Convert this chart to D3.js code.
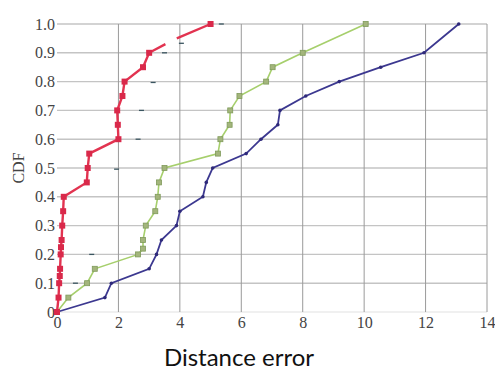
<!DOCTYPE html>
<html><head><meta charset="utf-8">
<script src="https://cdn.jsdelivr.net/npm/d3@7"></script>
<style>html,body{margin:0;padding:0;background:#fff;}svg{display:block;}</style>
</head><body>
<svg id="c" width="495" height="372"></svg>
<script>
// Data
const redX   = [0, 0.05, 0.07, 0.09, 0.1, 0.12, 0.13, 0.15, 0.17, 0.2, 0.22, 0.97, 1.0, 1.05, 2.0, 1.98, 1.96, 2.13, 2.2, 2.8, 3.0, 3.53, null, 3.9, 5.0];
const redY   = [0, 0.05, 0.1, 0.125, 0.15, 0.2, 0.225, 0.25, 0.3, 0.35, 0.4, 0.45, 0.5, 0.55, 0.6, 0.65, 0.7, 0.75, 0.8, 0.85, 0.9, 0.93, null, 0.95, 1.0];
const redMarked = [1,1,1,1,1,1,1,1,1,1,1,1,1,1,1,1,1,1,1,1,1,0,0,0,1];
const greenX = [0, 0.37, 0.98, 1.23, 2.64, 2.8, 2.8, 2.89, 3.2, 3.28, 3.32, 3.5, 5.24, 5.32, 5.62, 5.64, 5.94, 6.81, 7.02, 8.0, 10.05];
const greenY = [0, 0.05, 0.1, 0.15, 0.2, 0.22, 0.25, 0.3, 0.35, 0.4, 0.45, 0.5, 0.55, 0.6, 0.65, 0.7, 0.75, 0.8, 0.85, 0.9, 1.0];
const blueX  = [0, 1.56, 1.77, 3.0, 3.24, 3.4, 3.89, 4.0, 4.75, 4.86, 5.07, 6.16, 6.64, 7.19, 7.26, 8.1, 9.19, 10.54, 11.95, 13.08];
const blueY  = [0, 0.05, 0.1, 0.15, 0.2, 0.25, 0.3, 0.35, 0.4, 0.45, 0.5, 0.55, 0.6, 0.65, 0.7, 0.75, 0.8, 0.85, 0.9, 1.0];
const faintX = [5.35, 4.05, 3.5, 3.13, 2.75, 2.64, 1.94, 1.13, 0.6];
const faintY = [1.0, 0.933, 0.9, 0.797, 0.7, 0.6, 0.496, 0.2, 0.1];
const xTicks = [0, 2, 4, 6, 8, 10, 12, 14];
const yTicks = [0, 0.1, 0.2, 0.3, 0.4, 0.5, 0.6, 0.7, 0.8, 0.9, 1.0];
const yTickLabels = ["0", "0.1", "0.2", "0.3", "0.4", "0.5", "0.6", "0.7", "0.8", "0.9", "1.0"];
const yTitle = "CDF";
const xTitle = "Distance error";

const svg = d3.select("#c");
const x = d3.scaleLinear().domain([0, 14]).range([57, 487]);
const y = d3.scaleLinear().domain([0, 1]).range([312, 24]);

// grid
svg.append("g").selectAll("line").data(yTicks.slice(1)).join("line")
  .attr("x1", x(0)).attr("x2", x(14)).attr("y1", d => y(d)).attr("y2", d => y(d))
  .attr("stroke", "#c4c4c4").attr("stroke-width", 1.4);
svg.append("line").attr("x1", x(0)).attr("x2", x(14)).attr("y1", y(0)).attr("y2", y(0))
  .attr("stroke", "#e2e2e2").attr("stroke-width", 1.2);
svg.append("g").selectAll("line").data(xTicks.slice(1)).join("line")
  .attr("x1", d => x(d)).attr("x2", d => x(d)).attr("y1", y(0)).attr("y2", y(1))
  .attr("stroke", "#9a9a9a").attr("stroke-width", 1);

// axes labels (via d3 axes, domain/ticks hidden)
const ax = svg.append("g").attr("transform", `translate(0,${y(0)})`)
  .call(d3.axisBottom(x).tickValues(xTicks).tickSize(0).tickPadding(8).tickFormat(d3.format("d")));
const ay = svg.append("g").attr("transform", `translate(${x(0)},0)`)
  .call(d3.axisLeft(y).tickValues(yTicks).tickSize(0).tickPadding(2).tickFormat((d, i) => yTickLabels[i]));
[ax, ay].forEach(g => {
  g.select(".domain").remove();
  g.selectAll("text").attr("font-family", "'Liberation Serif', 'DejaVu Serif', serif")
    .attr("font-size", 16).attr("fill", "#444");
});
ax.selectAll("text").attr("dy", "0.5em");

svg.append("text").attr("transform", `translate(24,168) rotate(-90)`)
  .attr("text-anchor", "middle").attr("font-family", "'Liberation Serif', serif")
  .attr("font-size", 16).attr("fill", "#444").text(yTitle);

svg.append("text").attr("x", 239).attr("y", 366).attr("text-anchor", "middle")
  .attr("font-family", "Lato, 'Open Sans', sans-serif").attr("font-size", 24).attr("fill", "#111").text(xTitle);

function pts(xs, ys) { return xs.map((v, i) => ({x: v, y: ys[i]})); }
const line = d3.line().defined(d => d.x !== null).x(d => x(d.x)).y(d => y(d.y));

// faint remnant marks
svg.append("g").selectAll("line").data(pts(faintX, faintY)).join("line")
  .attr("x1", d => x(d.x) - 2.5).attr("x2", d => x(d.x) + 2.5)
  .attr("y1", d => y(d.y)).attr("y2", d => y(d.y))
  .attr("stroke", "#3a5560").attr("stroke-width", 1.3);

// blue
const blue = pts(blueX, blueY);
svg.append("path").datum(blue).attr("d", line).attr("fill", "none")
  .attr("stroke", "#3c3890").attr("stroke-width", 1.8);
svg.append("g").selectAll("circle").data(blue.slice(1)).join("circle")
  .attr("cx", d => x(d.x)).attr("cy", d => y(d.y)).attr("r", 1.8).attr("fill", "#2f2a7a");

// green
const green = pts(greenX, greenY);
svg.append("path").datum(green).attr("d", line).attr("fill", "none")
  .attr("stroke", "#a6cf6c").attr("stroke-width", 1.6);
svg.append("g").selectAll("rect").data(green.slice(1)).join("rect")
  .attr("x", d => x(d.x) - 2.5).attr("y", d => y(d.y) - 2.5).attr("width", 5).attr("height", 5)
  .attr("fill", "#a3b57c").attr("stroke", "#7f9a5a").attr("stroke-width", 0.8);

// red
const red = pts(redX, redY);
svg.append("path").datum(red).attr("d", line).attr("fill", "none")
  .attr("stroke", "#e23350").attr("stroke-width", 2.4);
svg.append("g").selectAll("rect").data(red.filter((d, i) => d.x !== null && redMarked[i])).join("rect")
  .attr("x", d => x(d.x) - 3).attr("y", d => y(d.y) - 3).attr("width", 6).attr("height", 6)
  .attr("fill", "#d9294a");
</script>
</body></html>
